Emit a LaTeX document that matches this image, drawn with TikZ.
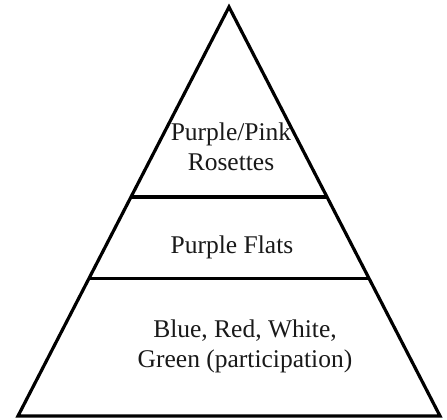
\documentclass[tikz,border=0pt]{standalone}
\usepackage{fontspec}
\setmainfont{Liberation Serif}
\usetikzlibrary{calc}
\begin{document}
\begin{tikzpicture}[x=1pt,y=-1pt,
  edge/.style={line width=3.2pt,line join=miter},
  lbl/.style={anchor=base,inner sep=0pt,font=\fontsize{25.5}{30}\selectfont,text=black!90}]
\useasboundingbox (0,0) rectangle (447,420);
\coordinate (A) at (229,7);
\coordinate (BL) at (18,416);
\coordinate (BR) at (440,416);
\draw[edge] (A) -- (BL) -- (BR) -- cycle;
\coordinate (L1) at ($(A)!0.4647!(BL)$);
\coordinate (R1) at ($(A)!0.4647!(BR)$);
\coordinate (L2) at ($(A)!0.6642!(BL)$);
\coordinate (R2) at ($(A)!0.6642!(BR)$);
\draw[edge] (L1) -- (R1);
\draw[edge] (L2) -- (R2);
\node[lbl] (t1) at (231,140) {Purple/Pink};
\node[lbl] (t2) at (231,170) {Rosettes};
\node[lbl] (t3) at (232,253) {Purple Flats};
\node[lbl] (t4) at (245,337) {Blue, Red, White,};
\node[lbl] (t5) at (245,367) {Green (participation)};
\end{tikzpicture}
\end{document}
